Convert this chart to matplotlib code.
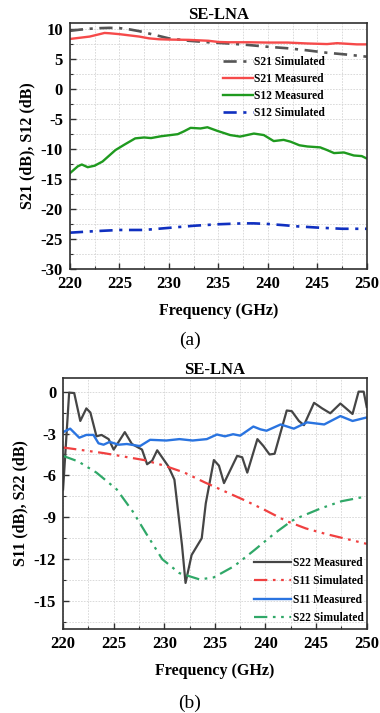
import matplotlib
matplotlib.use("Agg")
import matplotlib.pyplot as plt
from matplotlib.ticker import MultipleLocator

plt.rcParams['font.family'] = ['Liberation Serif', 'DejaVu Serif']
plt.rcParams['font.weight'] = 'bold'
plt.rcParams['axes.unicode_minus'] = False

# ---------------- Data: panel (a) ----------------
s21_sim_f = [220, 221, 222, 223, 224, 225, 226, 227, 228, 230, 232, 234, 236, 238, 240, 242, 244, 246, 248, 250]
s21_sim_v = [9.65, 9.85, 10.0, 10.1, 10.15, 10.1, 9.9, 9.6, 9.2, 8.4, 8.0, 7.75, 7.55, 7.3, 7.0, 6.75, 6.4, 6.0, 5.7, 5.35]

s21_meas_f = [220, 221, 222, 223, 223.5, 224, 225, 226, 227, 228, 229, 230, 232, 234, 235, 236, 238, 240, 242, 244, 246, 247, 248, 249, 250]
s21_meas_v = [8.3, 8.5, 8.7, 9.1, 9.3, 9.25, 9.1, 8.9, 8.7, 8.4, 8.25, 8.2, 8.15, 8.0, 7.8, 7.75, 7.75, 7.7, 7.7, 7.55, 7.45, 7.6, 7.5, 7.4, 7.4]

s12_meas_f = [220, 220.8, 221.2, 221.8, 222.5, 223.3, 224.6, 225.5, 226.6, 227.5, 228.2, 229.2, 230.9, 231.5, 232.2, 233.2, 233.9, 234.9, 236.2, 237.2, 238.6, 239.6, 240.6, 241.6, 242.3, 243.2, 244.0, 245.3, 246.0, 246.7, 247.7, 248.7, 249.5, 250]
s12_meas_v = [-14.05, -12.9, -12.6, -13.05, -12.8, -12.1, -10.2, -9.3, -8.25, -8.1, -8.2, -7.9, -7.55, -7.1, -6.5, -6.6, -6.4, -7.0, -7.7, -7.95, -7.45, -7.7, -8.7, -8.5, -8.8, -9.4, -9.6, -9.75, -10.2, -10.7, -10.6, -11.1, -11.2, -11.6]

s12_sim_f = [220, 222.5, 225, 227.5, 230, 232.5, 235, 237.5, 238.6, 240, 241.6, 243, 245, 247.5, 250]
s12_sim_v = [-23.95, -23.7, -23.5, -23.5, -23.15, -22.8, -22.55, -22.4, -22.4, -22.5, -22.7, -22.9, -23.1, -23.3, -23.3]

# ---------------- Data: panel (b) ----------------
s22_meas_f = [220, 220.6, 221.1, 221.7, 222.3, 222.7, 223.3, 223.8, 224.5, 225.0, 226.1, 226.8, 227.8, 228.3, 228.8, 229.3, 230.4, 231.0, 231.75, 232.1, 232.7, 233.7, 234.1, 234.9, 235.4, 235.9, 237.2, 237.7, 238.2, 239.2, 239.8, 240.4, 240.9, 242.1, 242.6, 243.3, 243.8, 244.8, 245.6, 246.4, 247.4, 248.6, 249.2, 249.7, 250]
s22_meas_v = [-7.0, -0.07, -0.1, -2.1, -1.2, -1.5, -3.2, -3.1, -3.4, -4.15, -2.9, -3.75, -4.15, -5.2, -4.95, -4.2, -5.35, -6.3, -11.0, -13.7, -11.7, -10.5, -8.0, -4.9, -5.3, -6.55, -4.6, -4.7, -5.8, -3.4, -3.9, -4.5, -4.45, -1.35, -1.4, -2.1, -2.4, -0.8, -1.2, -1.55, -0.85, -1.6, 0.0, 0.0, -1.1]

s11_sim_f = [220, 222, 224, 226, 228, 230, 232, 234, 236, 238, 240, 242, 244, 246, 248, 250]
s11_sim_v = [-4.0, -4.2, -4.4, -4.65, -4.9, -5.3, -5.8, -6.5, -7.15, -7.8, -8.5, -9.25, -9.8, -10.2, -10.55, -10.9]

s11_meas_f = [220, 220.7, 221.6, 222.3, 223.0, 223.5, 224.0, 224.6, 225.5, 226.3, 227.6, 228.6, 230.2, 231.5, 232.8, 234.2, 235.2, 236.0, 236.8, 237.5, 238.8, 239.5, 240.1, 241.5, 242.8, 244.1, 245.8, 247.4, 248.6, 250]
s11_meas_v = [-2.9, -2.65, -3.3, -3.1, -3.1, -3.7, -3.8, -3.6, -3.8, -3.75, -3.9, -3.45, -3.5, -3.4, -3.5, -3.4, -3.07, -3.2, -3.05, -3.15, -2.5, -2.7, -2.8, -2.35, -2.65, -2.2, -2.35, -1.75, -2.1, -1.85]

s22_sim_f = [220, 221.5, 223.3, 225.3, 226.9, 228.2, 229.8, 231.5, 233.5, 234.9, 236.9, 238.9, 240.9, 242.6, 243.5, 245.5, 247.5, 250]
s22_sim_v = [-4.6, -5.0, -5.8, -7.0, -8.6, -10.15, -12.0, -13.0, -13.45, -13.3, -12.5, -11.35, -10.15, -9.25, -8.95, -8.35, -7.85, -7.5]

fig = plt.figure(figsize=(3.8, 7.13), dpi=100)

tick_fs = 12
lab_fs = 11.5

def style_axes(ax):
    for sp in ax.spines.values():
        sp.set_color('#303030')
        sp.set_linewidth(1.2)
    ax.tick_params(which='major', direction='in', length=4, width=1, colors='#303030',
                   labelsize=tick_fs, labelcolor='black', pad=5)
    ax.tick_params(which='minor', direction='in', length=2.2, width=0.8, colors='#303030')
    ax.grid(True, which='both', color='#d5d5d5', linestyle=(0, (2, 1.5)), linewidth=0.6)
    ax.set_axisbelow(True)
    for lbl in ax.get_xticklabels() + ax.get_yticklabels():
        lbl.set_fontweight('bold')

# ---------------- Panel (a) ----------------
ax1 = fig.add_axes([0.184, 0.6227, 0.781, 0.3454])
ax1.plot(s21_sim_f, s21_sim_v, color='#555555', lw=1.9, ls=(0, (5, 2.5, 1.2, 2.5)), label='S21 Simulated')
ax1.plot(s21_meas_f, s21_meas_v, color='#f64a4a', lw=1.7, label='S21 Measured')
ax1.plot(s12_meas_f, s12_meas_v, color='#1f9a1f', lw=1.7, label='S12 Measured')
ax1.plot(s12_sim_f, s12_sim_v, color='#1030c0', lw=1.9, ls=(0, (5, 2.5, 1.2, 2.5)), label='S12 Simulated')
ax1.set_xlim(220, 250)
ax1.set_ylim(-30, 11)
ax1.xaxis.set_major_locator(MultipleLocator(5))
ax1.xaxis.set_minor_locator(MultipleLocator(2.5))
ax1.yaxis.set_major_locator(MultipleLocator(5))
ax1.yaxis.set_minor_locator(MultipleLocator(2.5))
style_axes(ax1)
ax1.set_title('SE-LNA', fontsize=12, fontweight='bold', pad=3)
ax1.set_xlabel('Frequency (GHz)', fontsize=lab_fs, fontweight='bold', labelpad=8)
ax1.set_ylabel('S21 (dB), S12 (dB)', fontsize=lab_fs, fontweight='bold', labelpad=4)
ax1.legend(loc='upper left', bbox_to_anchor=(0.5, 0.885), frameon=False,
           prop={'family': 'Liberation Serif', 'weight': 'bold', 'size': 8.3},
           handlelength=2.6, handletextpad=0.1, labelspacing=0.45, borderaxespad=0)
fig.text(0.5, 0.523, '(a)', ha='center', va='center', fontsize=14, fontweight='normal')

# ---------------- Panel (b) ----------------
ax2 = fig.add_axes([0.166, 0.1178, 0.799, 0.3525])
ax2.plot(s22_meas_f, s22_meas_v, color='#454545', lw=1.6, label='S22 Measured')
ax2.plot(s11_sim_f, s11_sim_v, color='#f04040', lw=1.6, ls=(0, (6, 2.5, 1.2, 2.5, 1.2, 2.5)), label='S11 Simulated')
ax2.plot(s11_meas_f, s11_meas_v, color='#2a74e0', lw=1.7, label='S11 Measured')
ax2.plot(s22_sim_f, s22_sim_v, color='#30a868', lw=1.6, ls=(0, (6, 2.5, 1.2, 2.5, 1.2, 2.5)), label='S22 Simulated')
ax2.set_xlim(220, 250)
ax2.set_ylim(-17, 1)
ax2.xaxis.set_major_locator(MultipleLocator(5))
ax2.xaxis.set_minor_locator(MultipleLocator(2.5))
ax2.yaxis.set_major_locator(MultipleLocator(3))
ax2.yaxis.set_minor_locator(MultipleLocator(1.5))
style_axes(ax2)
ax2.set_title('SE-LNA', fontsize=12, fontweight='bold', pad=3)
ax2.set_xlabel('Frequency (GHz)', fontsize=lab_fs, fontweight='bold', labelpad=8)
ax2.set_ylabel('S11 (dB), S22 (dB)', fontsize=lab_fs, fontweight='bold', labelpad=4)
ax2.legend(loc='upper left', bbox_to_anchor=(0.615, 0.305), frameon=False,
           prop={'family': 'Liberation Serif', 'weight': 'bold', 'size': 8.3},
           handlelength=3.2, handletextpad=0.15, labelspacing=0.55, borderaxespad=0)
fig.text(0.5, 0.013, '(b)', ha='center', va='center', fontsize=14, fontweight='normal')

fig.savefig('out.png', dpi=100)
